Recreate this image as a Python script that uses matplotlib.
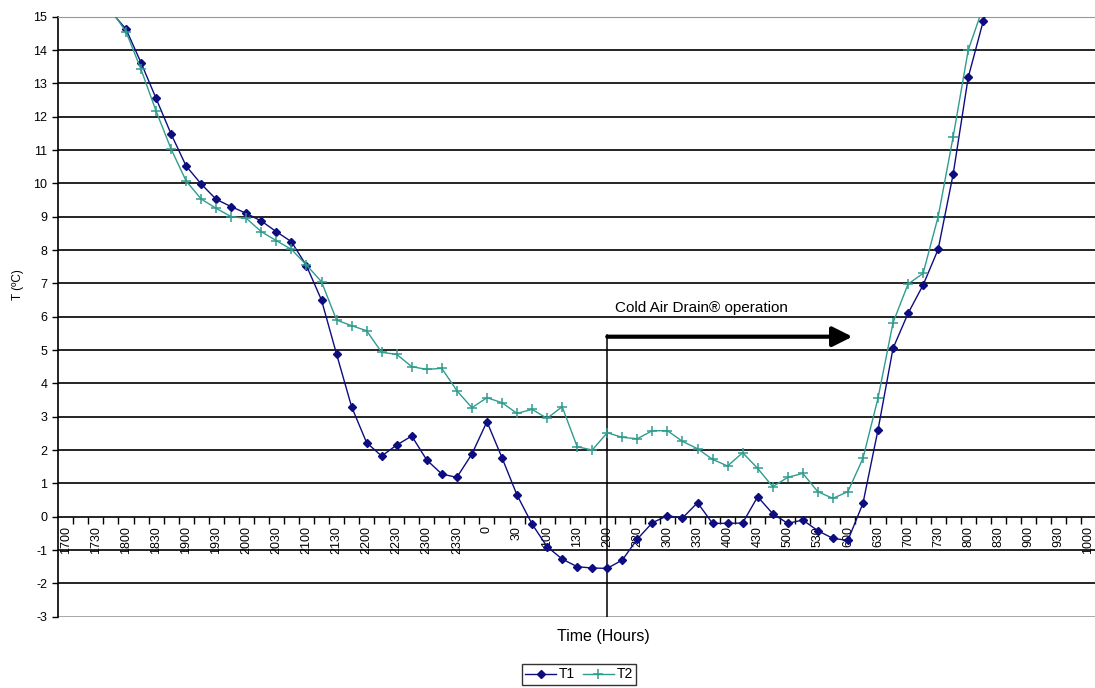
import numpy as np
import matplotlib
matplotlib.use('Agg')
import matplotlib.pyplot as plt

nan = np.nan

# readings every 15 min, 1700 -> 1000 next morning (69 slots)
T1 = [nan, nan, nan, 15.15,
      14.63, 13.62, 12.55, 11.48, 10.52, 9.98, 9.52, 9.30,
      9.10, 8.87, 8.55, 8.25, 7.53, 6.50, 4.88, 3.30,
      2.22, 1.82, 2.15, 2.42, 1.70, 1.28, 1.18, 1.88,
      2.85, 1.77, 0.65, -0.22, -0.90, -1.27, -1.50, -1.54,
      -1.55, -1.30, -0.67, -0.18, 0.03, -0.04, 0.42, -0.20,
      -0.20, -0.19, 0.60, 0.09, -0.20, -0.10, -0.42, -0.65,
      -0.71, 0.40, 2.60, 5.05, 6.10, 6.95, 8.02, 10.28,
      13.18, 14.87, 16.0, nan, nan, nan, nan, nan, nan]

T2 = [nan, nan, nan, 15.2,
      14.55, 13.42, 12.17, 11.03, 10.07, 9.53, 9.25, 9.00,
      8.95, 8.55, 8.28, 8.02, 7.55, 7.05, 5.90, 5.73,
      5.58, 4.93, 4.87, 4.50, 4.42, 4.45, 3.78, 3.27,
      3.57, 3.42, 3.10, 3.22, 2.95, 3.30, 2.10, 2.00,
      2.52, 2.38, 2.34, 2.58, 2.58, 2.26, 2.04, 1.72,
      1.52, 1.92, 1.45, 0.90, 1.18, 1.30, 0.75, 0.55,
      0.75, 1.75, 3.55, 5.82, 6.98, 7.30, 9.00, 11.40,
      14.00, 15.3, nan, nan, nan, nan, nan, nan, nan]

# labels on every second slot (half hours)
tick_labels = ['1700', '1730', '1800', '1830', '1900', '1930', '2000', '2030',
               '2100', '2130', '2200', '2230', '2300', '2330', '0', '30',
               '100', '130', '200', '230', '300', '330', '400', '430',
               '500', '530', '600', '630', '700', '730', '800', '830',
               '900', '930', '1000']

plt.rcParams["font.family"] = "Liberation Sans"
plt.rcParams["axes.unicode_minus"] = False

W, H = 1095, 688
n = len(T1)
step = 15.04  # px per 15-min slot
fig = plt.figure(figsize=(W / 100, H / 100), dpi=100)
ax = fig.add_axes([58.3 / W, (H - 616.7) / H, n * step / W, 600 / H])

x = np.arange(n)
ax.plot(x, T1, color='#0d0d80', lw=1.0, marker='D', markersize=4.5,
        markerfacecolor='#0d0d80', markeredgecolor='#0d0d80', label='T1', zorder=4)
ax.plot(x, T2, color='#2f9c8e', lw=1.0, marker='+', markersize=7,
        markeredgewidth=1.1, label='T2', zorder=5)

ax.set_xlim(-0.5, n - 0.5)
ax.set_ylim(-3, 15)

# gridlines
for y in range(-2, 15):
    if y != 0:
        ax.axhline(y, color='black', lw=1.2, zorder=1)
ax.axhline(-3, color='#999999', lw=1.2, zorder=1)

ax.spines['bottom'].set_position(('data', 0))
ax.spines['bottom'].set_linewidth(1.2)
ax.spines['left'].set_linewidth(1.2)
ax.spines['top'].set_color('#999999')
ax.spines['right'].set_visible(False)

ax.set_yticks(range(-3, 16))
ax.tick_params(axis='y', direction='out', length=4, width=1, labelsize=9, pad=4)

ax.set_xticks(np.arange(0, n, 2))
ax.set_xticklabels(tick_labels, rotation=90)
ax.set_xticks(np.arange(0.5, n - 0.5, 1), minor=True)
ax.tick_params(axis='x', which='major', length=0, labelsize=9, pad=7)
ax.tick_params(axis='x', which='minor', direction='out', length=5, width=1)

# Cold Air Drain start marker + arrow
ax.plot([36, 36], [-3, 5.45], color='black', lw=1.1, zorder=3)
ax.annotate('', xy=(52.3, 5.4), xytext=(36, 5.4),
            arrowprops=dict(arrowstyle='-|>,head_length=0.6,head_width=0.3',
                            lw=3, color='black', mutation_scale=20,
                            shrinkA=0, shrinkB=0), zorder=6)
ax.text(36.5, 6.26, 'Cold Air Drain® operation', ha='left', va='center', fontsize=11)

fig.text(18 / W, 1 - 285 / H, 'T (ºC)', rotation=90, ha='center', va='center', fontsize=8.5)
fig.text(603 / W, 1 - 637 / H, 'Time (Hours)', ha='center', va='center', fontsize=11.5)

leg = fig.legend(loc='center', bbox_to_anchor=(579 / W, 1 - 674.5 / H), ncol=2,
                 fontsize=10, frameon=True, fancybox=False, handlelength=2.2,
                 handletextpad=0.2, columnspacing=0.6, borderpad=0.25)
leg.get_frame().set_edgecolor('black')
leg.get_frame().set_linewidth(1.0)

fig.savefig('out.png', dpi=100)
